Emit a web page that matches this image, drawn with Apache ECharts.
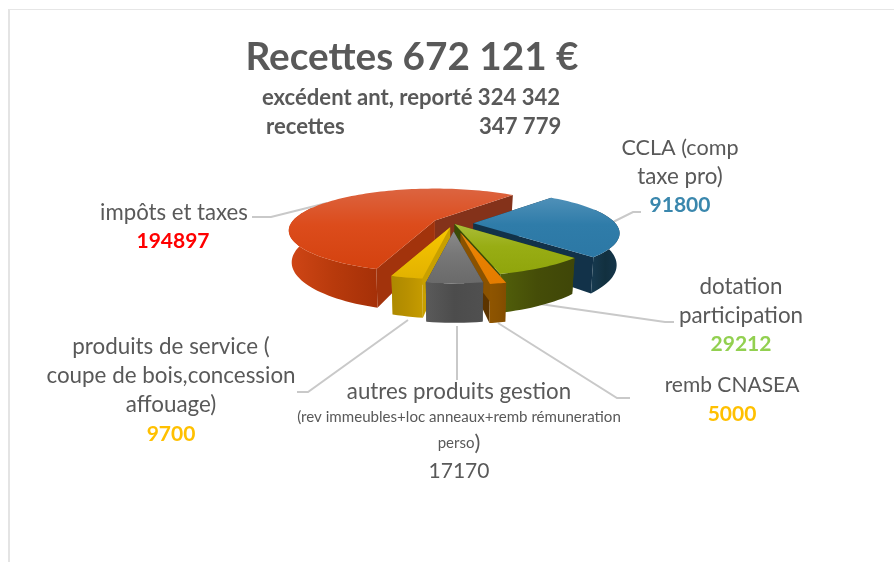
<!DOCTYPE html>
<html><head><meta charset="utf-8">
<style>html,body{margin:0;padding:0;background:#fff}#c{width:894px;height:562px}</style>
<script src="https://cdn.jsdelivr.net/npm/echarts@6/dist/echarts.min.js"></script>
</head><body><div id="c"></div>
<script>
// ---- data (clockwise, starting where the blue slice starts) ----
const categories = ['CCLA (comp taxe pro)','dotation participation','remb CNASEA','autres produits gestion','produits de service','impôts et taxes'];
const values = [91800, 29212, 5000, 17170, 9700, 194897];
const explosion = [0.14, 0.015, 0.24, 0.2, 0.1, 0.15];
const drawOrder = [1, 2, 3, 5, 4, 0];
const titleText = 'Recettes 672 121 €';
const subLine1 = 'excédent ant, reporté 324 342';
const subLine2 = 'recettes                         347 779';

// ---- pie projection settings ----
const FONT = 'Lato, "Open Sans", sans-serif';
const GREY = '#595959';
const startAngle = 40.4, cx = 453.5, cy = 223.5, Rx = 142, Ry = 39.6, persp = 0.238, H = 30;
const total = values.reduce((a, b) => a + b, 0);
const palette = [
  {top:['#4f90b8','#2f7ca9','#2c78a5'], wall:['#173a50','#12303f','#15364c'], sideA:'#123249', sideB:'#123249'},
  {top:['#abbd38','#98ad14','#90a50c'], wall:['#52600a','#454d08','#3f4608'], sideA:'#3a4a06', sideB:'#3a4a06'},
  {top:['#ee8a10','#e88000','#e47c00'], wall:['#8f5500','#8a5200','#824c00'], sideA:'#8a5200', sideB:'#5c3400'},
  {top:['#8a8a8a','#777777','#6a6a6a'], wall:['#5a5a5a','#4c4c4c','#505050'], sideA:'#3c3c3c', sideB:'#3c3c3c'},
  {top:['#f7c800','#eebd00','#e2b200'], wall:['#ad8900','#b89000','#c69c00'], sideA:'#c8a000', sideB:'#c8a000'},
  {top:['#dc6440','#dc4c1c','#d4420f'], wall:['#d04616','#b83a0c','#a53008'], sideA:'#a2330c', sideB:'#84321a'}
];
function vgrad(c){return {type:'linear',x:0,y:0,x2:0,y2:1,colorStops:[{offset:0,color:c[0]},{offset:.45,color:c[1]},{offset:1,color:c[2]}]};}
function hgrad(c){return {type:'linear',x:0,y:0,x2:1,y2:0,colorStops:[{offset:0,color:c[0]},{offset:.5,color:c[1]},{offset:1,color:c[2]}]};}
function rel(deg){
  const a = deg*Math.PI/180, X = Math.sin(a), Y = Math.cos(a), s = 1/(1+persp*Y);
  return {x:Rx*X*s, y:-Ry*Y*s, s};
}
function renderSlice(params, api){
  const i = params.dataIndex;
  let before = 0; for (let k=0;k<i;k++) before += values[k];
  const a0 = startAngle + before/total*360, a1 = a0 + api.value(1)/total*360, m = (a0+a1)/2*Math.PI/180;
  const e = explosion[i];
  const ox = cx + e*Rx*Math.sin(m), oy = cy - e*Ry*Math.cos(m);
  const topP = r => [ox + r.x, oy + r.y];
  const botP = r => [ox + r.x*0.98, oy + r.y + H*r.s];
  const apexT = [ox,oy], apexB = [ox,oy+H];
  const rim = []; const n = Math.max(6, Math.ceil((a1-a0)/2));
  for (let k=0;k<=n;k++) rim.push(rel(a0+(a1-a0)*k/n));
  const c = palette[i], z = drawOrder[i]*10;
  const first = rim[0], last = rim[n];
  const poly = (points, fill, zz) => ({type:'polygon', shape:{points}, style:{fill, stroke:null}, z2:z+zz});
  const front = rim.filter(r => r.y > -Ry*0.35);
  const children = [
    poly([apexT, topP(last), botP(last), apexB], c.sideB, 0),
    poly([apexT, topP(first), botP(first), apexB], c.sideA, 1),
    poly(front.map(topP).concat(front.slice().reverse().map(botP)), hgrad(c.wall), 2),
    poly([apexT].concat(rim.map(topP)), vgrad(c.top), 3)
  ];
  return {type:'group', children};
}
// ---- texts ----
function T(text, x, y, size, color, bold, align){
  return {type:'text', x, y, z:10, style:{text, fontFamily:FONT, fontSize:size, fill:color,
    fontWeight:bold?'bold':'normal', align:align||'center', verticalAlign:'middle'}};
}
function L(points){
  return {type:'polyline', z:1, shape:{points}, style:{stroke:'#c9c9c9', lineWidth:2, fill:null}};
}
const graphics = [
  {type:'line', z:0, shape:{x1:9,y1:9,x2:9,y2:562}, style:{stroke:'#e4e4e4', lineWidth:2}},
  {type:'line', z:0, shape:{x1:9,y1:9.5,x2:894,y2:9.5}, style:{stroke:'#e6e6e6', lineWidth:1.2}},
  L([[327,203],[271,217],[252,217]]),
  L([[613,222],[633,212],[641,212]]),
  L([[540,304],[665,322],[674,322]]),
  L([[498,323],[617,398],[630,398]]),
  L([[457,326],[457,380]]),
  L([[408,320],[308,392],[297,392]]),
  T(titleText, 412, 58, 38.7, GREY, true),
  T(subLine1, 411, 98, 22.1, GREY, true),
  T(subLine2, 266, 127, 22.1, GREY, true, 'left'),
  T('CCLA (comp', 680, 148, 21.6, GREY), T('taxe pro)', 680, 177, 22.4, GREY),
  T(String(values[0]), 680, 205, 21, '#3a87ad', true),
  T('dotation', 741, 287, 22.4, GREY), T('participation', 741, 316, 22.4, GREY),
  T(String(values[1]), 741, 344, 21, '#92d050', true),
  T('remb CNASEA', 732, 385, 21, GREY),
  T(String(values[2]), 732, 414, 21, '#ffc000', true),
  T('impôts et taxes', 174, 213, 22.2, GREY),
  T(String(values[5]), 173, 241, 21, '#ff0000', true),
  T('produits de service (', 171, 347, 22.4, GREY),
  T('coupe de bois,concession', 171, 376, 22.4, GREY),
  T('affouage)', 171, 405, 22.4, GREY),
  T(String(values[4]), 171, 434, 21, '#ffc000', true),
  T('autres produits gestion', 459, 392, 22.3, GREY),
  T('(rev immeubles+loc anneaux+remb rémuneration', 459, 417, 15.1, GREY),
  {type:'text', x:459, y:443, z:10, style:{text:'{s|perso}{b|)}', align:'center', verticalAlign:'middle',
    rich:{s:{fontFamily:FONT,fontSize:15,fill:GREY},b:{fontFamily:FONT,fontSize:22,fill:GREY}}}},
  T(String(values[3]), 459, 471, 21, GREY)
];
const chart = echarts.init(document.getElementById('c'), null, {renderer:'canvas'});
chart.setOption({
  animation:false,
  backgroundColor:'#fff',
  graphic:graphics,
  series:[{type:'custom', coordinateSystem:'none', renderItem:renderSlice, silent:true,
    encode:{value:1}, z:5, clip:false,
    data:categories.map((name,i)=>({name, value:[i, values[i]]}))}]
});
</script></body></html>
